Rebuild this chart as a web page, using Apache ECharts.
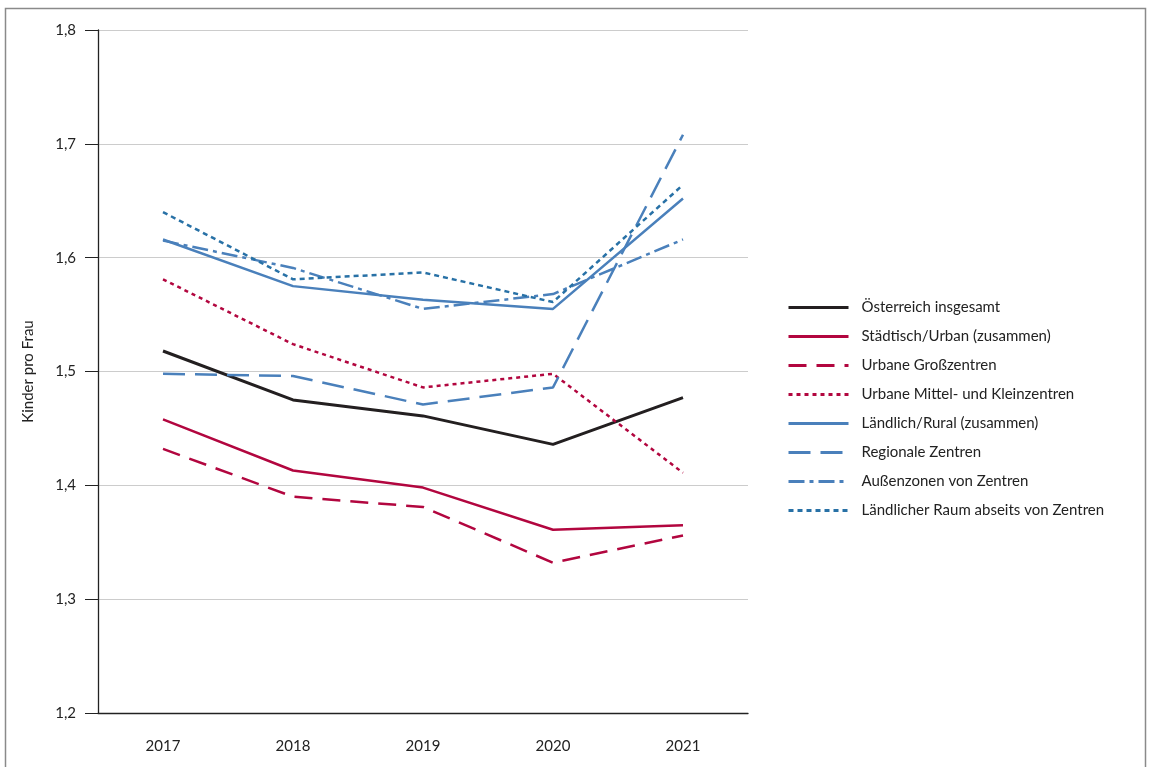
<!DOCTYPE html>
<html><head><meta charset="utf-8">
<script src="https://cdn.jsdelivr.net/npm/echarts@6/dist/echarts.min.js"></script>
<style>html,body{margin:0;padding:0;background:#fff}#c{width:1150px;height:767px}</style>
</head><body><div id="c"></div>
<script>
const years = ['2017','2018','2019','2020','2021'];
const oesterreich = [1.518, 1.475, 1.461, 1.436, 1.477];
const staedtisch = [1.458, 1.413, 1.398, 1.361, 1.365];
const grosszentren = [1.432, 1.390, 1.381, 1.332, 1.356];
const mittelKlein = [1.581, 1.524, 1.486, 1.498, 1.411];
const laendlich = [1.616, 1.575, 1.563, 1.555, 1.652];
const regionale = [1.498, 1.496, 1.471, 1.486, 1.708];
const aussenzonen = [1.615, 1.591, 1.555, 1.568, 1.616];
const laendlRaum = [1.640, 1.581, 1.587, 1.561, 1.664];
const names = ['Österreich insgesamt','Städtisch/Urban (zusammen)','Urbane Großzentren','Urbane Mittel- und Kleinzentren','Ländlich/Rural (zusammen)','Regionale Zentren','Außenzonen von Zentren','Ländlicher Raum abseits von Zentren'];

const RED = '#b2063f', BLUE = '#4a80bb', BLUE2 = '#2871a6';
function mk(name, data, color, type, width) {
  return { name, type: 'line', data, symbol: 'none', smooth: false,
    lineStyle: { color, width: width || 2.5, type: type || 'solid', cap: 'butt' },
    itemStyle: { color }, emphasis: { disabled: true } };
}
const chart = echarts.init(document.getElementById('c'), null, { renderer: 'canvas' });
const FONT = 'Lato, "Open Sans", sans-serif';
chart.setOption({
  animation: false,
  textStyle: { fontFamily: FONT },
  grid: { left: 98, right: 402, top: 30, bottom: 54 },
  xAxis: {
    type: 'category', data: years, boundaryGap: true,
    axisLine: { lineStyle: { color: '#222', width: 1.3 } },
    axisTick: { alignWithLabel: true, length: 13, lineStyle: { color: '#222', width: 1 } },
    axisLabel: { color: '#222', fontSize: 15, margin: 26, fontFamily: FONT }
  },
  yAxis: {
    type: 'value', min: 1.2, max: 1.8, interval: 0.1,
    name: 'Kinder pro Frau', nameLocation: 'middle', nameGap: 62, nameRotate: 90,
    nameTextStyle: { color: '#222', fontSize: 15, fontFamily: FONT },
    axisLine: { show: true, lineStyle: { color: '#222', width: 1.3 } },
    axisTick: { show: true, length: 13, lineStyle: { color: '#222' } },
    axisLabel: { color: '#222', fontSize: 15, margin: 22, fontFamily: FONT,
      formatter: v => v.toFixed(1).replace('.', ',') },
    splitLine: { show: true, lineStyle: { color: '#cccccc', width: 1.2 } }
  },
  legend: {
    orient: 'vertical', left: 782, top: 295, itemWidth: 60, itemHeight: 14, itemGap: 14,
    itemStyle: { opacity: 0 },
    lineStyle: { width: 3 },
    textStyle: { color: '#222', fontSize: 15, fontFamily: FONT, padding: [0, 0, 0, 8] },
    data: names.map(n => ({ name: n }))
  },
  graphic: [{ type: 'rect', shape: { x: 5.5, y: 8.5, width: 1140, height: 800 },
    style: { fill: 'none', stroke: '#8a8a8a', lineWidth: 1.5 }, silent: true }],
  series: [
    mk(names[0], oesterreich, '#231f20', 'solid', 3),
    mk(names[1], staedtisch, RED, 'solid'),
    mk(names[2], grosszentren, RED, [18, 10]),
    mk(names[3], mittelKlein, RED, [4, 4]),
    mk(names[4], laendlich, BLUE, 'solid'),
    mk(names[5], regionale, BLUE, [22, 10]),
    mk(names[6], aussenzonen, BLUE, [16, 5, 4, 5]),
    mk(names[7], laendlRaum, BLUE2, [5, 4])
  ]
});
</script></body></html>
